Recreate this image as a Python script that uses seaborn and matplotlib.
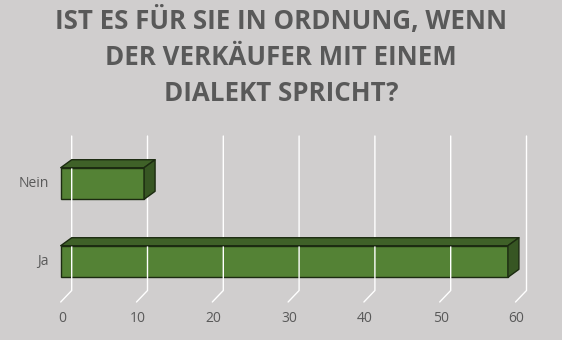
import matplotlib
matplotlib.use("Agg")
import matplotlib.pyplot as plt
from matplotlib.patches import Polygon
from matplotlib.lines import Line2D
from matplotlib.transforms import IdentityTransform
import seaborn as sns
import pandas as pd

# Survey answers (number of respondents)
categories = ["Nein", "Ja"]
values = [11, 59]
x_ticks = [0, 10, 20, 30, 40, 50, 60]
title = "IST ES FÜR SIE IN ORDNUNG, WENN\nDER VERKÄUFER MIT EINEM\nDIALEKT SPRICHT?"

BG = "#d0cece"
FRONT = "#548235"
TOP = "#3f6128"
SIDE = "#375623"
EDGE = "#1c2b11"
TEXT = "#595959"

sns.set_theme(style="white")
plt.rcParams["font.family"] = ["Open Sans", "DejaVu Sans"]

W, H = 562, 340
fig = plt.figure(figsize=(W / 100, H / 100), dpi=100, facecolor=BG)
ax = fig.add_axes([60.7 / W, 38 / H, 454.8 / W, 166 / H])
ax.set_facecolor("none")

df = pd.DataFrame({"Antwort": categories, "Anzahl": values})
sns.barplot(data=df, x="Anzahl", y="Antwort", orient="h", width=0.405,
            color=FRONT, saturation=1, edgecolor=EDGE, linewidth=1.0,
            ax=ax, zorder=5)

ax.set_xlim(0, 60)
ax.set_ylim(1.519, -0.609)
for s in ax.spines.values():
    s.set_visible(False)
ax.set_xlabel("")
ax.set_ylabel("")
ax.set_xticks([])
ax.set_yticks([])

fig.canvas.draw()
to_disp = ax.transData.transform

# depth offsets in pixels
DX, DY_BAR, DY_WALL = 11, 8, 11.5
y_floor = 1.519
y_top = -0.609

# gridlines on the back wall plus the floor segment to the front
for v in x_ticks:
    fx, fy = to_disp((v, y_floor))
    _, ty = to_disp((v, y_top))
    pts_x = [fx + DX, fx + DX, fx]
    pts_y = [ty, fy + DY_WALL, fy]
    fig.add_artist(Line2D(pts_x, pts_y, color="white", lw=1.0,
                          transform=IdentityTransform(), zorder=1))
    fig.text(fx / W + 0.002, (fy - 17) / H, str(v), ha="center", va="center",
             fontsize=10, color=TEXT)

# extruded top and side faces of each bar
for patch in ax.patches:
    x0, y0 = patch.get_x(), patch.get_y()
    w, h = patch.get_width(), patch.get_height()
    (lx, by), (rx, ty) = to_disp((x0, y0 + h)), to_disp((x0 + w, y0))
    top = [(lx, ty), (rx, ty), (rx + DX, ty + DY_BAR), (lx + DX, ty + DY_BAR)]
    side = [(rx, ty), (rx + DX, ty + DY_BAR), (rx + DX, by + DY_BAR), (rx, by)]
    for poly, col in ((top, TOP), (side, SIDE)):
        fig.add_artist(Polygon(poly, closed=True, facecolor=col, edgecolor=EDGE,
                               lw=1.0, transform=IdentityTransform(), zorder=4,
                               joinstyle="round"))
    patch.set_zorder(6)
    patch.set_clip_on(False)

# category labels
for cat, patch in zip(categories, ax.patches):
    cy = patch.get_y() + patch.get_height() / 2
    _, py = to_disp((0, cy))
    fig.text(49 / W, py / H, cat, ha="right", va="center",
             fontsize=10, color=TEXT)

fig.text(0.5, 0.832, title, ha="center", va="center", fontsize=18.6,
         fontweight="bold", color=TEXT, linespacing=1.42)

fig.savefig("out.png", dpi=100, facecolor=BG)
